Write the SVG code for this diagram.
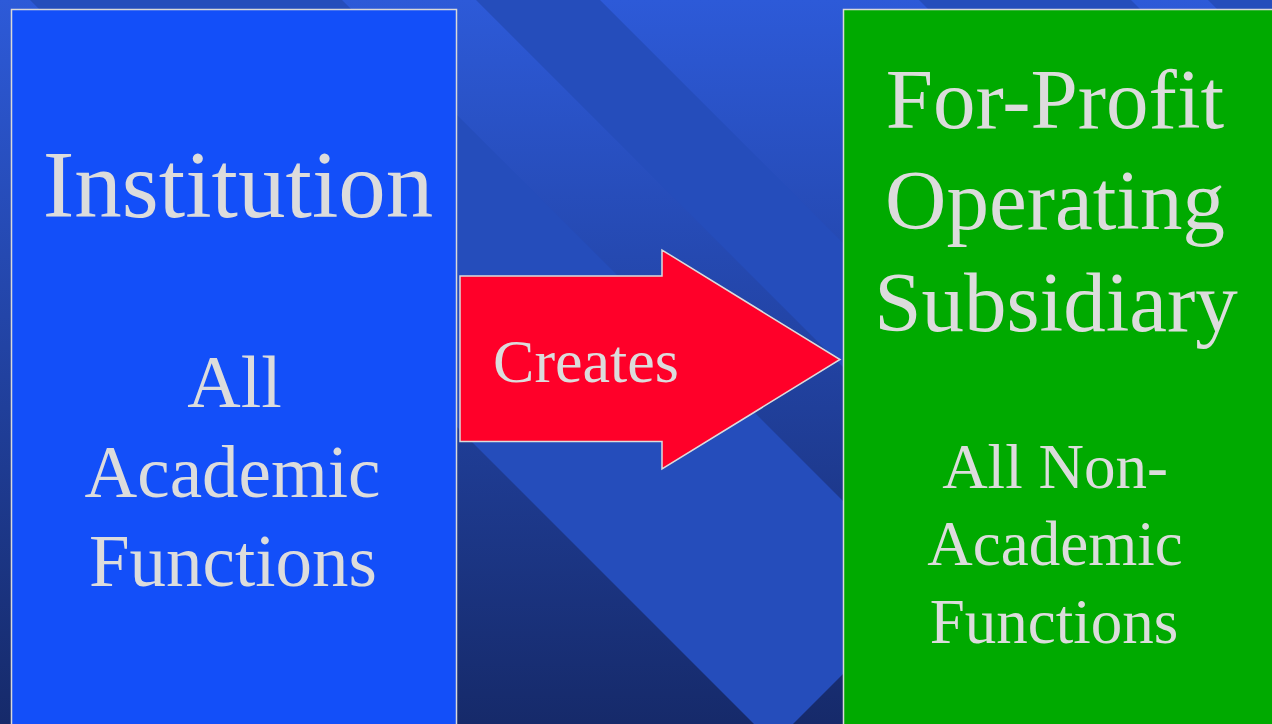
<svg xmlns="http://www.w3.org/2000/svg" width="1272" height="724" viewBox="0 0 1272 724">
  <defs>
    <linearGradient id="bg" x1="0" y1="0" x2="0" y2="1">
      <stop offset="0" stop-color="#2d5ad8"/>
      <stop offset="1" stop-color="#162a6a"/>
    </linearGradient>
  </defs>
  <style>
    .band { fill: #254dbb; }
    .box { stroke: #d9d9d9; stroke-width: 1.5; }
    .txt { font-family: "Liberation Serif", "Times New Roman", serif; fill: #dcdcdc; text-anchor: middle; }
  </style>
  <g id="background">
    <rect x="0" y="0" width="1272" height="724" fill="url(#bg)"/>
    <polygon class="band" points="30,0 342,0 929.5,587.5 773.5,743.5"/>
    <polygon class="band" points="476,0 600,0 1324,724 1200,724"/>
    <polygon class="band" points="919,0 1131,0 1855,724 1643,724"/>
    <polygon class="band" points="1208,0 1300,0 1300,92"/>
  </g>
  <g id="node-institution">
    <rect class="box" x="11.5" y="9.5" width="445" height="730" fill="#134ff9"/>
    <text class="txt" x="238" y="217" font-size="95">Institution</text>
    <text class="txt" x="234.5" y="407" font-size="74">All</text>
    <text class="txt" x="232.5" y="497" font-size="73">Academic</text>
    <text class="txt" x="233" y="586" font-size="73">Functions</text>
  </g>
  <g id="node-subsidiary">
    <rect class="box" x="843.5" y="9.5" width="440" height="730" fill="#00aa00"/>
    <text class="txt" x="1055" y="128" font-size="85">For-Profit</text>
    <text class="txt" x="1055" y="229" font-size="85">Operating</text>
    <text class="txt" x="1056" y="331" font-size="85">Subsidiary</text>
    <text class="txt" x="1055" y="488" font-size="63">All Non-</text>
    <text class="txt" x="1055" y="565" font-size="63">Academic</text>
    <text class="txt" x="1054" y="643" font-size="63">Functions</text>
  </g>
  <g id="connectors">
    <g id="arrow-creates">
      <polygon points="460,276 662,276 662,250 840,359.5 662,469 662,441.5 460,441.5" fill="#ff0029" stroke="#dcdcdc" stroke-width="1.5" stroke-linejoin="miter"/>
      <text class="txt" x="586" y="382" font-size="62">Creates</text>
    </g>
  </g>
</svg>
